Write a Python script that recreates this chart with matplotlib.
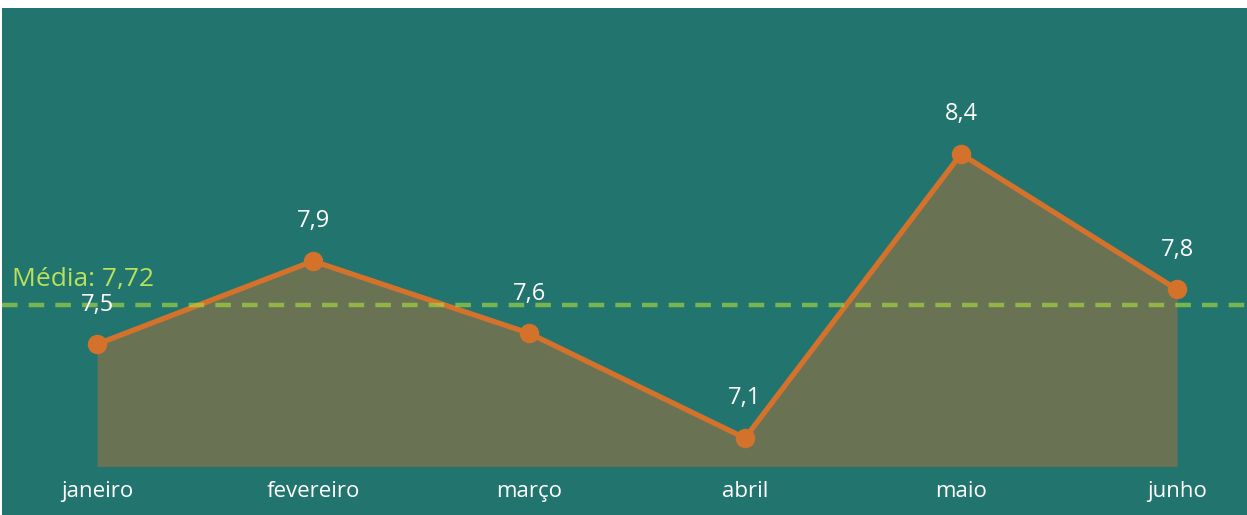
import matplotlib.pyplot as plt

meses = ['janeiro', 'fevereiro', 'março', 'abril', 'maio', 'junho']
notas = [7.53, 7.91, 7.58, 7.10, 8.40, 7.78]
base = 6.97

media = sum(notas) / len(notas)

bg = '#22756e'
laranja = '#d4722c'

fig = plt.figure(figsize=(12.47, 5.15), dpi=100)
ax = fig.add_axes([2 / 1247, 0, 1 - 2 / 1247, (515 - 8) / 515])
ax.set_facecolor(bg)

x = list(range(len(meses)))
ax.fill_between(x, notas, base, color=laranja, alpha=0.4, linewidth=0)
ax.plot(x, notas, color=laranja, linewidth=3.8, marker='o', markersize=13, zorder=3)
ax.axhline(media - 0.01, color='#b0e040', alpha=0.6, linewidth=3.2, linestyle=(0, (3.5, 2.5)), zorder=4)

for xi, v in zip(x, notas):
    ax.annotate(f'{v:.1f}'.replace('.', ','), (xi, v), xytext=(0, 28.5), textcoords='offset points',
                ha='center', va='center', color='white', fontsize=17, family='Open Sans', zorder=5)

ax.text(-0.395, media + 0.11, f'Média: {media:.2f}'.replace('.', ','), color='#b8e25a',
        fontsize=19, family='Open Sans', va='center', ha='left', zorder=5)

for xi, m in zip(x, meses):
    ax.text(xi, 6.855, m, color='white', fontsize=16, family='Open Sans', ha='center', va='center')

ax.set_xlim(-0.44, 5.324)
ax.set_ylim(6.748, 9.068)
ax.set_xticks([])
ax.set_yticks([])
for s in ax.spines.values():
    s.set_visible(False)

fig.savefig('out.png', dpi=100, facecolor='white')
